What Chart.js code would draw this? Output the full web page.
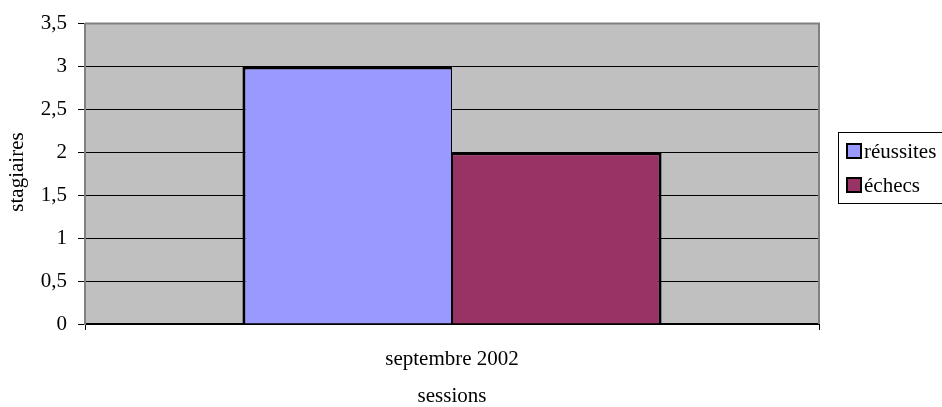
<!DOCTYPE html>
<html>
<head>
<meta charset="utf-8">
<script src="https://cdn.jsdelivr.net/npm/chart.js@4"></script>
<style>
  html, body { margin: 0; padding: 0; background: #fff; }
  #wrap { width: 942px; height: 407px; position: relative; }
</style>
</head>
<body>
<div id="wrap"><canvas id="stagiairesChart"></canvas></div>
<script>
const sessions = ["septembre 2002"];
const reussites = [3];
const echecs = [2];
const yTicks = [0, 0.5, 1, 1.5, 2, 2.5, 3, 3.5];

const FONT = "'Liberation Serif', 'Times New Roman', serif";

// grey plot background, grey frame on top/right
const plotFrame = {
    id: "plotFrame",
    beforeDraw(chart) {
        const { ctx, chartArea: a } = chart;
        ctx.save();
        ctx.fillStyle = "#C0C0C0";
        ctx.fillRect(a.left, a.top, a.right - a.left, a.bottom - a.top);
        ctx.restore();
    },
    beforeDatasetsDraw(chart) {
        const { ctx, chartArea: a } = chart;
        ctx.save();
        ctx.strokeStyle = "#808080";
        ctx.lineWidth = 2;
        ctx.beginPath();
        ctx.moveTo(a.left, a.top);
        ctx.lineTo(a.right, a.top);
        ctx.lineTo(a.right, a.bottom);
        ctx.stroke();
        ctx.restore();
    },
    afterDraw(chart) {
        const { ctx } = chart;
        // rotated y title
        ctx.save();
        ctx.translate(17, 172);
        ctx.rotate(-Math.PI / 2);
        ctx.font = "21px " + FONT;
        ctx.fillStyle = "#000";
        ctx.textAlign = "center";
        ctx.textBaseline = "middle";
        ctx.fillText("stagiaires", 0, 0);
        ctx.restore();
    }
};

// boxed legend at the right
const boxLegend = {
    id: "boxLegend",
    afterDraw(chart) {
        const { ctx } = chart;
        const x = 838, y = 132, h = 71;
        ctx.save();
        ctx.fillStyle = "#fff";
        ctx.fillRect(x, y, 120, h);
        ctx.strokeStyle = "#000";
        ctx.lineWidth = 1;
        ctx.strokeRect(x + 0.5, y + 0.5, 120, h);
        ctx.font = "21px " + FONT;
        ctx.textBaseline = "middle";
        chart.data.datasets.forEach((ds, i) => {
            const cy = 151 + i * 34;
            ctx.fillStyle = ds.backgroundColor;
            ctx.fillRect(847, cy - 7, 14, 14);
            ctx.strokeStyle = "#000";
            ctx.lineWidth = 2;
            ctx.strokeRect(847, cy - 7, 14, 14);
            ctx.fillStyle = "#000";
            ctx.fillText(ds.label, 864, cy + 1);
        });
        ctx.restore();
    }
};

new Chart(document.getElementById("stagiairesChart"), {
    type: "bar",
    data: {
        labels: sessions,
        datasets: [
            {
                label: "réussites",
                data: reussites,
                backgroundColor: "#9999FF",
                borderColor: "#000",
                borderSkipped: false,
                borderWidth: { top: 3, left: 3, right: 1, bottom: 0 }
            },
            {
                label: "échecs",
                data: echecs,
                backgroundColor: "#993366",
                borderColor: "#000",
                borderSkipped: false,
                borderWidth: { top: 3, left: 1, right: 3, bottom: 0 }
            }
        ]
    },
    options: {
        responsive: true,
        maintainAspectRatio: false,
        animation: false,
        layout: { padding: { top: 22, right: 123, left: 0, bottom: 0 } },
        datasets: { bar: { categoryPercentage: 0.571, barPercentage: 1 } },
        plugins: {
            legend: { display: false },
            tooltip: { enabled: false }
        },
        scales: {
            x: {
                afterFit: (scale) => { scale.height = 83; },
                grid: { drawOnChartArea: false, color: "#000", tickLength: 6 },
                border: { color: "#000", width: 2 },
                ticks: { color: "#000", padding: 17, font: { family: FONT, size: 21 } },
                title: {
                    display: true,
                    text: "sessions",
                    color: "#000",
                    padding: 0,
                    font: { family: FONT, size: 21, lineHeight: 1 }
                }
            },
            y: {
                min: 0,
                max: 3.5,
                afterFit: (scale) => { scale.width = 85; },
                afterBuildTicks: (scale) => {
                    scale.ticks = yTicks.map((v) => ({ value: v }));
                },
                grid: {
                    color: (c) => (c.tick && c.tick.value === 3.5 ? "#808080" : "#000"),
                    tickColor: "#000",
                    tickLength: 7,
                    lineWidth: 1
                },
                border: { color: "#808080", width: 2 },
                ticks: {
                    color: "#000",
                    padding: 11,
                    font: { family: FONT, size: 21 },
                    callback: (v) => String(v).replace(".", ",")
                }
            }
        }
    },
    plugins: [plotFrame, boxLegend]
});
</script>
</body>
</html>
